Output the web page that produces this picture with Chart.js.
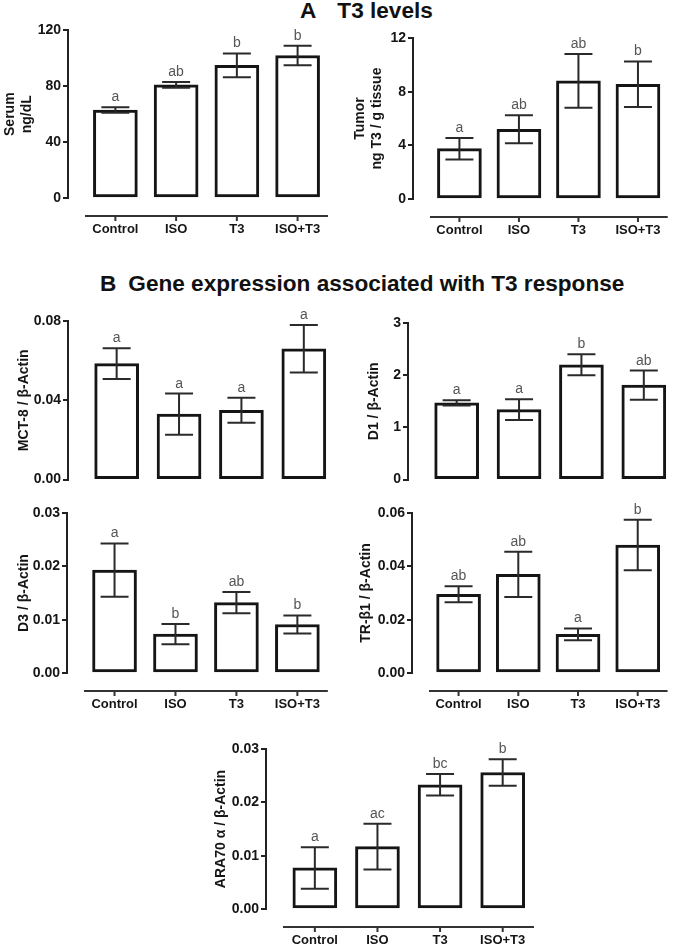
<!DOCTYPE html>
<html>
<head>
<meta charset="utf-8">
<script src="https://cdn.jsdelivr.net/npm/chart.js@4.4.1/dist/chart.umd.min.js"></script>
<style>
  body { margin: 0; background: #fff; width: 685px; height: 946px; position: relative; overflow: hidden;
         font-family: Arial, "Liberation Sans", sans-serif; }
  .head { position: absolute; font-weight: bold; font-size: 22.6px; line-height: 22px; color: #111; white-space: pre; }
  canvas { position: absolute; }
</style>
</head>
<body>
<div class="head" style="left:300px; top:0px;">A<span style="margin-left:21px">T3 levels</span></div>
<div class="head" style="left:100px; top:273px;">B<span style="margin-left:12px">Gene expression associated with T3 response</span></div>

<canvas id="serum" width="345" height="230" style="left:0px; top:20px"></canvas>
<canvas id="tumor" width="340" height="230" style="left:345px; top:20px"></canvas>
<canvas id="mct8" width="345" height="185" style="left:0px; top:305px"></canvas>
<canvas id="d1" width="340" height="185" style="left:345px; top:305px"></canvas>
<canvas id="d3" width="345" height="225" style="left:0px; top:495px"></canvas>
<canvas id="tr" width="340" height="225" style="left:345px; top:495px"></canvas>
<canvas id="ara" width="370" height="211" style="left:190px; top:735px"></canvas>

<script>
const groups = ['Control', 'ISO', 'T3', 'ISO+T3'];

const serumMean = [63, 81, 95, 102];
const serumErr = [2, 2, 8.5, 7];
const serumLetters = ['a', 'ab', 'b', 'b'];
const serumTicks = ['0', '40', '80', '120'];

const tumorMean = [3.75, 5.2, 8.8, 8.55];
const tumorErr = [0.8, 1.05, 2, 1.7];
const tumorLetters = ['a', 'ab', 'ab', 'b'];
const tumorTicks = ['0', '4', '8', '12'];

const mct8Mean = [0.0585, 0.033, 0.035, 0.066];
const mct8Err = [0.0078, 0.0104, 0.0063, 0.012];
const mct8Letters = ['a', 'a', 'a', 'a'];
const mct8Ticks = ['0.00', '0.04', '0.08'];

const d1Mean = [1.47, 1.34, 2.2, 1.81];
const d1Err = [0.05, 0.2, 0.2, 0.28];
const d1Letters = ['a', 'a', 'b', 'ab'];
const d1Ticks = ['0', '1', '2', '3'];

const d3Mean = [0.0193, 0.0073, 0.0132, 0.0091];
const d3Err = [0.005, 0.0019, 0.002, 0.0017];
const d3Letters = ['a', 'b', 'ab', 'b'];
const d3Ticks = ['0.00', '0.01', '0.02', '0.03'];

const trMean = [0.0295, 0.037, 0.0145, 0.048];
const trErr = [0.003, 0.0085, 0.0022, 0.0095];
const trLetters = ['ab', 'ab', 'a', 'b'];
const trTicks = ['0.00', '0.02', '0.04', '0.06'];

const araMean = [0.0077, 0.0117, 0.0233, 0.0256];
const araErr = [0.0039, 0.0043, 0.002, 0.0025];
const araLetters = ['a', 'ac', 'bc', 'b'];
const araTicks = ['0.00', '0.01', '0.02', '0.03'];

// page geometry of each panel (px): canvas box, y axis x, top tick y, zero y, plot right edge
const layout = {
    serum: { box: [0, 20, 345, 230], axisX: 68, top: 30, zero: 198, right: 338, titleX: 10, xAxis: true },
    tumor: { box: [345, 20, 340, 230], axisX: 413, top: 38, zero: 199, right: 681, titleX: 360, xAxis: true },
    mct8: { box: [0, 305, 345, 185], axisX: 68, top: 321, zero: 484, right: 335, titleX: 24, xAxis: false },
    d1: { box: [345, 305, 340, 185], axisX: 408, top: 323, zero: 484, right: 675, titleX: 374, xAxis: false },
    d3: { box: [0, 495, 345, 225], axisX: 67, top: 513, zero: 673, right: 336, titleX: 24, xAxis: true },
    tr: { box: [345, 495, 340, 225], axisX: 412, top: 513, zero: 673, right: 679, titleX: 366, xAxis: true },
    ara: { box: [190, 735, 370, 211], axisX: 266, top: 749, zero: 909, right: 534, titleX: 221, xAxis: true }
};

const FONT = 'Arial, "Liberation Sans", sans-serif';
const INK = '#151515';

// error bars, significance letters and the detached x axis
const extras = {
    id: 'extras',
    afterDatasetsDraw(chart, args, opts) {
        const ctx = chart.ctx;
        const xs = chart.scales.x;
        const ys = chart.scales.y;
        const area = chart.chartArea;
        ctx.save();
        ctx.strokeStyle = '#2a2a2a';
        ctx.lineWidth = 2;
        for (let i = 0; i < opts.mean.length; i++) {
            const x = xs.getPixelForValue(i);
            const hi = ys.getPixelForValue(opts.mean[i] + opts.err[i]);
            const lo = ys.getPixelForValue(opts.mean[i] - opts.err[i]);
            ctx.beginPath();
            ctx.moveTo(x, hi); ctx.lineTo(x, lo);
            ctx.moveTo(x - 14, hi); ctx.lineTo(x + 14, hi);
            ctx.moveTo(x - 14, lo); ctx.lineTo(x + 14, lo);
            ctx.stroke();
            ctx.fillStyle = '#555';
            ctx.font = '14px ' + FONT;
            ctx.textAlign = 'center';
            ctx.textBaseline = 'alphabetic';
            ctx.fillText(opts.letters[i], x, hi - 6);
        }
        if (opts.xAxis) {
            const y = area.bottom + 18;
            ctx.strokeStyle = '#333';
            ctx.lineWidth = 2;
            ctx.beginPath();
            ctx.moveTo(area.left + 17, y);
            ctx.lineTo(area.right, y);
            for (let i = 0; i < opts.mean.length; i++) {
                const x = xs.getPixelForValue(i);
                ctx.moveTo(x, y);
                ctx.lineTo(x, y + 5);
            }
            ctx.stroke();
        }
        ctx.restore();
    }
};

function makePanel(id, title, mean, err, letters, ticks) {
    const pos = layout[id];
    const [L, T, W, H] = pos.box;
    const tickValues = ticks.map(Number);

    return new Chart(document.getElementById(id), {
        type: 'bar',
        data: {
            datasets: [{
                data: mean.map((v, i) => ({ x: i, y: v })),
                backgroundColor: '#ffffff',
                borderColor: INK,
                borderWidth: 3,
                borderSkipped: false,
                barThickness: 44
            }]
        },
        options: {
            responsive: false,
            animation: false,
            events: [],
            layout: { padding: { top: pos.top - T, right: W - (pos.right - L), left: 0, bottom: 0 } },
            plugins: {
                legend: { display: false },
                tooltip: { enabled: false },
                extras: { mean: mean, err: err, letters: letters, xAxis: pos.xAxis }
            },
            scales: {
                x: {
                    type: 'linear',
                    min: -0.78,
                    max: 3.5,
                    offset: false,
                    grid: { display: false, drawTicks: false },
                    border: { display: false },
                    afterBuildTicks: s => { s.ticks = groups.map((g, i) => ({ value: i })); },
                    afterFit: s => { s.height = T + H - pos.zero; },
                    ticks: {
                        display: pos.xAxis,
                        padding: 24,
                        autoSkip: false,
                        maxRotation: 0,
                        color: INK,
                        font: { family: FONT, size: 13, weight: 'bold' },
                        callback: v => groups[v]
                    }
                },
                y: {
                    min: 0,
                    max: tickValues[tickValues.length - 1],
                    afterBuildTicks: s => { s.ticks = tickValues.map(v => ({ value: v })); },
                    afterFit: s => { s.width = pos.axisX - L; },
                    grid: { drawOnChartArea: false, drawTicks: true, tickLength: 5, lineWidth: 2, color: '#222' },
                    border: { display: true, width: 2, color: '#222' },
                    ticks: {
                        padding: 2,
                        color: INK,
                        font: { family: FONT, size: 14, weight: 'bold' },
                        callback: v => ticks[tickValues.indexOf(v)]
                    },
                    title: {
                        display: true,
                        text: title,
                        color: INK,
                        padding: { top: pos.titleX - L - 8.4, bottom: 0 },
                        font: { family: FONT, size: 14, weight: 'bold' }
                    }
                }
            }
        },
        plugins: [extras]
    });
}

makePanel('serum', ['Serum', 'ng/dL'], serumMean, serumErr, serumLetters, serumTicks);
makePanel('tumor', ['Tumor', 'ng T3 / g tissue'], tumorMean, tumorErr, tumorLetters, tumorTicks);
makePanel('mct8', 'MCT-8 / β-Actin', mct8Mean, mct8Err, mct8Letters, mct8Ticks);
makePanel('d1', 'D1 / β-Actin', d1Mean, d1Err, d1Letters, d1Ticks);
makePanel('d3', 'D3 / β-Actin', d3Mean, d3Err, d3Letters, d3Ticks);
makePanel('tr', 'TR-β1 / β-Actin', trMean, trErr, trLetters, trTicks);
makePanel('ara', 'ARA70 α / β-Actin', araMean, araErr, araLetters, araTicks);
</script>
</body>
</html>
